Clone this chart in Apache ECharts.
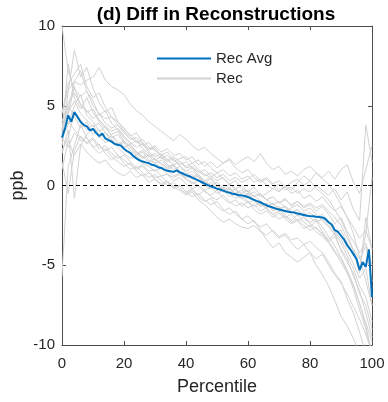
<!DOCTYPE html>
<html><head><meta charset="utf-8">
<script src="https://cdn.jsdelivr.net/npm/echarts@6/dist/echarts.min.js"></script>
<style>html,body{margin:0;padding:0;background:#fff}#c{width:388px;height:402px}</style>
</head><body><div id="c"></div>
<script>
const titleText = "(d) Diff in Reconstructions";
const xName = "Percentile";
const yName = "ppb";
const xTicks = [0, 20, 40, 60, 80, 100];
const yTicks = [-10, -5, 0, 5, 10];
const legendNames = ["Rec Avg", "Rec"];

// Rec Avg, one value per percentile 0..100
const recAvg = [3.0,3.6,4.4,4.0,4.6,4.3,4.0,3.8,3.7,3.45,3.55,3.3,3.1,3.25,2.95,2.85,2.75,2.6,2.55,2.5,2.3,2.15,2.05,1.85,1.7,1.58,1.5,1.45,1.4,1.3,1.25,1.15,1.1,1.0,0.92,0.9,0.85,0.95,0.82,0.75,0.65,0.58,0.5,0.4,0.32,0.22,0.12,0.02,-0.05,-0.12,-0.2,-0.25,-0.32,-0.4,-0.45,-0.52,-0.55,-0.6,-0.62,-0.66,-0.72,-0.82,-0.9,-0.98,-1.05,-1.15,-1.25,-1.32,-1.38,-1.45,-1.5,-1.55,-1.6,-1.65,-1.68,-1.7,-1.75,-1.8,-1.85,-1.9,-1.92,-1.93,-1.96,-1.97,-2.0,-2.1,-2.3,-2.45,-2.8,-2.9,-3.15,-3.4,-3.75,-4.0,-4.3,-4.6,-5.3,-4.8,-5.1,-4.0,-7.0];

// individual Rec lines, one value every 2 percentiles (0..100)
const rec01 = [10,7.2,6.0,5.6,5.9,5.0,4.5,4.2,4.3,3.8,3.4,3.0,2.7,2.9,2.4,2.2,1.9,1.6,1.8,1.5,1.2,1.4,1.0,0.7,0.5,0.8,0.4,0.1,0.3,-0.2,-0.4,-0.1,-0.6,-0.9,-0.7,-1.1,-0.8,-1.3,-1.0,-1.4,-1.2,-1.6,-1.3,-1.8,-2.4,-2.0,-2.9,-3.5,-4.2,-3.6,-5.0];
const rec02 = [2.8,5.9,8.5,6.8,7.4,6.1,5.2,4.6,4.9,4.0,3.6,3.1,3.3,2.7,2.2,2.4,1.8,1.5,1.7,1.2,0.9,1.1,0.6,0.3,0.5,0.0,-0.3,-0.1,-0.6,-0.8,-0.5,-1.0,-1.3,-1.1,-1.6,-1.4,-1.9,-2.2,-1.8,-2.3,-2.6,-2.2,-2.9,-3.4,-3.0,-4.1,-4.8,-5.5,-6.8,-7.5,-9.0];
const rec03 = [4.6,6.0,6.5,6.3,6.6,6.8,7.4,6.6,6.2,6.0,5.7,5.1,4.7,4.4,4.0,3.7,3.4,3.1,2.8,3.2,2.9,2.5,2.2,2.4,2.0,1.7,1.4,1.6,1.1,0.8,1.0,0.5,0.2,0.4,0.0,-0.3,-0.1,-0.5,-0.3,-0.8,-0.6,-1.0,-0.7,-1.2,-1.6,-1.3,-2.0,-2.6,-3.3,-2.8,-4.0];
const rec04 = [-5.7,1.2,2.5,3.8,3.0,2.4,2.6,2.0,1.6,1.9,1.4,1.0,1.2,0.8,0.5,0.7,0.3,0.0,0.2,-0.2,-0.5,-0.3,-0.7,-1.0,-0.8,-1.3,-1.6,-1.4,-1.8,-2.1,-1.9,-2.3,-2.6,-2.4,-2.9,-3.3,-3.1,-3.6,-4.0,-3.7,-4.2,-4.6,-4.3,-5.0,-5.6,-6.1,-6.8,-7.6,-8.4,-9.3,-10.5];
const rec05 = [1.5,-0.5,2.2,3.1,2.6,2.9,2.3,2.5,2.0,1.7,1.9,1.5,1.1,1.3,0.9,1.0,0.6,0.7,0.3,0.5,0.1,-0.2,0.0,-0.4,-0.6,-0.3,-0.8,-1.1,-0.9,-1.3,-1.0,-1.5,-1.8,-1.6,-2.0,-1.7,-2.1,-2.4,-2.2,-2.7,-2.5,-2.9,-3.2,-3.6,-4.2,-4.8,-5.5,-6.3,-7.4,-8.6,-9.8];
const rec06 = [2.0,3.5,-0.8,2.5,3.2,3.6,3.0,3.3,2.8,2.5,2.7,2.2,1.9,2.1,1.6,1.4,1.6,1.2,1.3,0.9,0.7,0.4,0.6,0.2,0.0,0.2,-0.2,-0.4,-0.2,-0.6,-0.8,-0.6,-1.0,-1.3,-1.1,-1.5,-1.3,-1.7,-1.5,-1.9,-1.7,-2.0,-1.8,-2.3,-2.9,-3.4,-4.1,-4.9,-5.8,-5.2,-7.5];
const rec07 = [3.5,5.0,4.3,3.6,4.0,3.2,3.5,2.9,3.1,2.6,2.8,2.4,2.0,2.2,1.8,2.0,1.7,1.9,1.5,1.7,1.8,1.4,1.6,1.2,1.5,1.1,1.4,1.7,1.3,1.6,1.8,1.5,2.0,1.4,1.0,1.2,0.7,0.9,0.6,1.0,1.2,0.8,0.5,0.9,0.4,1.0,1.3,0.2,-0.5,1.0,2.5];
const rec08 = [4.0,5.2,5.8,5.1,4.7,4.2,4.5,3.9,3.6,3.8,3.3,2.9,3.0,2.6,2.3,2.5,2.1,2.3,1.9,2.0,1.6,1.8,1.3,1.5,1.1,0.8,1.0,0.6,0.8,0.4,0.6,0.2,0.4,0.0,-0.2,0.1,-0.3,-0.1,-0.5,-0.2,-0.4,0.0,-0.3,-0.6,-0.2,-0.9,-0.4,-1.5,-2.2,3.8,1.5];
const rec09 = [3.2,4.0,3.5,3.0,2.7,3.0,2.5,2.2,2.4,1.9,1.6,1.3,1.0,1.2,0.8,0.5,0.6,0.2,-0.1,0.0,-0.4,-0.7,-0.5,-0.9,-1.2,-1.0,-1.5,-1.8,-1.6,-2.1,-2.4,-2.2,-2.8,-3.4,-3.9,-3.6,-4.2,-4.5,-4.8,-4.5,-4.2,-5.0,-5.6,-6.3,-7.2,-8.2,-8.8,-9.6,-10.5,-11,-11];
const rec10 = [3.0,2.4,3.3,2.8,3.0,2.4,2.0,2.3,1.8,1.5,1.2,1.4,0.9,0.6,0.8,0.4,0.1,0.3,-0.1,-0.3,-0.6,-0.4,-0.9,-1.2,-1.6,-2.0,-2.3,-2.1,-2.4,-2.6,-2.7,-2.5,-2.9,-3.1,-2.8,-3.2,-3.0,-3.4,-3.3,-3.7,-3.5,-3.9,-4.2,-4.8,-5.5,-6.0,-7.1,-8.0,-9.2,-10.5,-10.5];
const rec11 = [3.8,4.6,5.3,4.5,4.1,3.7,3.9,3.3,3.0,3.2,2.7,2.5,2.1,1.8,2.0,1.6,1.4,1.1,1.3,0.9,0.7,0.9,0.5,0.2,0.4,0.0,-0.2,0.1,-0.3,-0.5,-0.3,-0.7,-0.5,-0.9,-0.7,-1.1,-0.9,-1.2,-1.0,-1.3,-1.1,-1.4,-1.2,-1.6,-2.0,-2.5,-3.3,-4.0,-5.2,-3.0,0.5];
const rec12 = [2.5,4.8,6.5,7.2,5.9,5.3,4.4,4.7,3.9,3.5,3.0,2.6,2.8,2.3,2.0,1.6,1.8,1.3,1.0,1.2,0.8,0.5,0.7,0.3,0.0,-0.3,-0.1,-0.5,-0.8,-0.6,-1.0,-1.3,-1.1,-1.5,-1.8,-1.6,-2.0,-1.8,-2.2,-2.0,-2.4,-2.7,-3.0,-3.5,-4.1,-4.6,-5.4,-6.5,-7.8,-9.0,-10.5];
const rec13 = [3.3,7.6,5.5,4.8,5.5,4.6,4.0,3.6,3.2,3.4,2.8,2.4,2.0,1.7,1.9,1.4,1.1,0.9,0.6,0.8,0.4,0.2,0.0,-0.3,-0.1,-0.5,-0.3,-0.7,-0.5,-0.8,-1.1,-0.9,-1.3,-1.1,-1.5,-1.3,-1.7,-1.4,-1.2,-1.6,-1.4,-1.8,-2.2,-2.6,-3.0,-3.6,-4.4,-5.2,-6.3,-7.0,-8.5];
const rec14 = [2.2,3.0,4.6,3.9,3.5,3.8,3.1,2.7,2.9,2.4,2.0,1.7,1.9,1.4,1.2,0.9,1.1,0.7,0.5,0.7,0.4,0.1,0.3,0.0,-0.2,0.0,-0.4,-0.2,-0.5,-0.3,-0.6,-0.4,-0.7,-0.5,-0.2,-0.4,0.0,-0.3,0.2,0.6,0.3,0.8,0.4,0.1,-0.5,-1.2,-2.0,-3.0,-4.5,-6.0,-7.5];
const rec15 = [4.5,6.4,7.0,7.6,6.2,5.5,5.8,4.9,4.3,4.0,3.5,3.2,2.8,2.5,2.7,2.2,1.9,2.1,1.6,1.3,1.5,1.1,0.8,1.0,0.6,0.3,0.5,0.1,-0.2,0.0,-0.4,-0.7,-0.5,-0.9,-1.2,-1.0,-1.4,-1.7,-1.5,-2.0,-2.3,-2.1,-2.6,-3.2,-3.8,-4.5,-5.3,-6.2,-7.4,-8.8,-10.5];
const rec16 = [1.0,2.8,1.9,2.6,2.1,1.7,1.4,1.6,1.1,0.8,0.6,0.9,0.5,0.7,0.2,0.4,0.0,0.2,-0.2,0.0,-0.4,-0.2,-0.6,-0.3,-0.7,-0.9,-0.6,-1.0,-1.3,-1.1,-1.4,-1.2,-1.6,-1.4,-1.8,-2.1,-1.9,-2.3,-2.1,-2.5,-2.8,-2.6,-3.1,-3.5,-3.2,-4.0,-4.6,-5.7,-6.6,-8.0,-9.5];
const rec17 = [3.0,3.8,5.0,5.7,4.4,4.0,3.4,3.7,3.1,2.8,2.4,2.6,2.1,1.8,1.5,1.7,1.3,1.0,1.2,0.8,0.5,0.7,0.3,0.0,0.2,-0.2,-0.4,-0.2,-0.6,-0.8,-0.5,-0.9,-1.2,-1.4,-1.1,-1.5,-1.3,-1.6,-1.9,-1.7,-2.0,-2.3,-2.1,-2.5,-3.1,-2.8,-3.6,-4.0,-4.6,-3.8,-6.0];
const rec18 = [3.6,4.5,6.2,5.0,4.6,4.8,4.1,3.7,3.4,3.6,3.1,2.7,2.4,2.6,2.1,1.8,2.0,1.6,1.3,1.5,1.1,1.2,0.9,0.6,0.8,0.5,0.7,0.3,0.5,0.2,0.4,0.7,0.3,0.5,0.1,0.3,-0.1,0.2,0.4,0.0,0.3,-0.2,-0.5,-0.9,-1.5,-2.2,-3.0,-4.1,-5.5,-2.0,-4.0];
const recLines = [rec01,rec02,rec03,rec04,rec05,rec06,rec07,rec08,rec09,rec10,rec11,rec12,rec13,rec14,rec15,rec16,rec17,rec18];

const FONT = "'Liberation Sans', Arial, Helvetica, sans-serif";
const TXT = '#262626';
const AX = '#4d4d4d';
const GRAY = '#d2d2d2';
const BLUE = '#0072BD';

function toXY(arr) {
  const n = arr.length;
  return arr.map((v, i) => [i * 100 / (n - 1), v]);
}

const series = [];
recLines.forEach(arr => {
  series.push({
    name: legendNames[1], type: 'line', data: toXY(arr), symbol: 'none',
    lineStyle: { color: GRAY, width: 1 }, itemStyle: { color: GRAY },
    z: 2, silent: true, animation: false
  });
});
series.push({
  name: 'zero', type: 'line', data: [[xTicks[0], 0], [xTicks[xTicks.length - 1], 0]], symbol: 'none',
  lineStyle: { color: '#000', width: 1, type: [4, 3] }, z: 3, silent: true, animation: false
});
series.push({
  name: legendNames[0], type: 'line', data: toXY(recAvg), symbol: 'none',
  lineStyle: { color: BLUE, width: 2 }, itemStyle: { color: BLUE },
  z: 4, animation: false
});

const xBase = { type: 'value', min: xTicks[0], max: xTicks[xTicks.length - 1], interval: 20,
  splitLine: { show: false }, axisLine: { show: true, onZero: false, lineStyle: { color: AX, width: 1 } },
  axisTick: { show: true, inside: true, length: 4, lineStyle: { color: AX } } };
const yBase = { type: 'value', min: yTicks[0], max: yTicks[yTicks.length - 1], interval: 5,
  splitLine: { show: false }, axisLine: { show: true, onZero: false, lineStyle: { color: AX, width: 1 } },
  axisTick: { show: true, inside: true, length: 4, lineStyle: { color: AX } } };

const chart = echarts.init(document.getElementById('c'), null, { renderer: 'canvas' });
chart.setOption({
  animation: false,
  backgroundColor: '#fff',
  title: { text: titleText, left: 216, top: 5, textAlign: 'center', padding: 0,
    textStyle: { fontFamily: FONT, fontSize: 19, fontWeight: 'bold', color: '#000' } },
  legend: { data: legendNames, left: 151, top: 46, orient: 'vertical', itemWidth: 54, itemHeight: 14,
    itemGap: 5, itemStyle: { opacity: 0 },
    textStyle: { fontFamily: FONT, fontSize: 15, color: TXT } },
  grid: { left: 62, right: 16, top: 26, bottom: 57, containLabel: false, outerBoundsMode: 'none' },
  xAxis: [
    Object.assign({}, xBase, { position: 'bottom', name: xName, nameLocation: 'middle', nameGap: 33,
      nameMoveOverlap: false,
      nameTextStyle: { fontFamily: FONT, fontSize: 18, color: TXT },
      axisLabel: { fontFamily: FONT, fontSize: 15, color: TXT, margin: 11 } }),
    Object.assign({}, xBase, { position: 'top', axisLabel: { show: false } })
  ],
  yAxis: [
    Object.assign({}, yBase, { position: 'left', name: yName, nameLocation: 'middle', nameGap: 35,
      nameMoveOverlap: false,
      nameTextStyle: { fontFamily: FONT, fontSize: 18, color: TXT },
      axisLabel: { fontFamily: FONT, fontSize: 15, color: TXT, margin: 7 } }),
    Object.assign({}, yBase, { position: 'right', axisLabel: { show: false } })
  ],
  series: series
});
</script></body></html>
